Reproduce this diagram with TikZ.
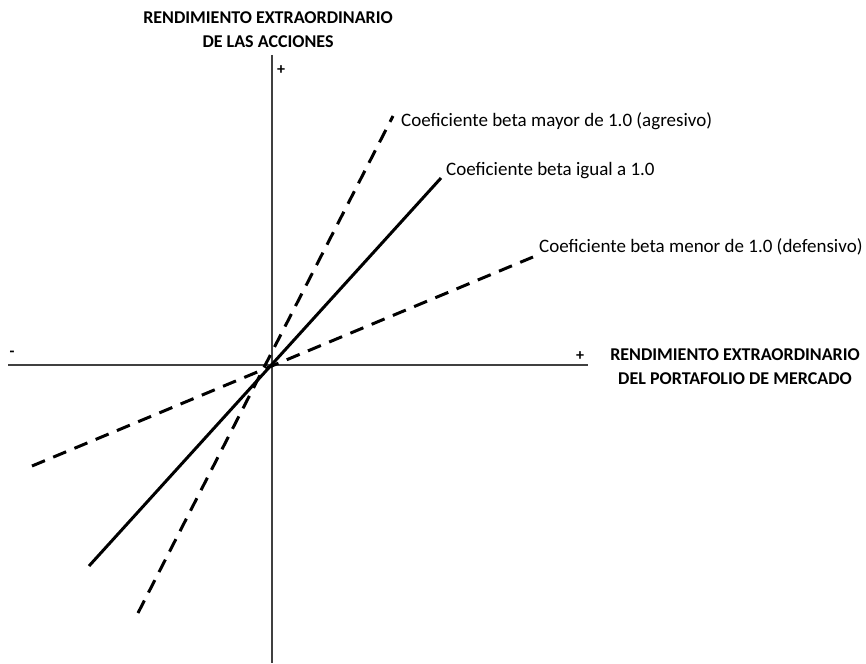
\documentclass[tikz,border=0pt]{standalone}
\usepackage{fontspec}
\setmainfont{Carlito}
\begin{document}
\begin{tikzpicture}[x=1pt,y=-1pt,
  axis/.style={draw=black!75,line width=1.1pt},
  beta/.style={line width=3pt,black},
  betadash/.style={beta,dash pattern=on 14pt off 9pt},
  lbl/.style={inner sep=0pt,font=\fontsize{19}{22}\selectfont},
  axlbl/.style={inner sep=0pt,align=center,font=\bfseries\fontsize{18}{24}\selectfont},
  sign/.style={inner sep=0pt,font=\bfseries\fontsize{16}{18}\selectfont}]
\useasboundingbox (0,0) rectangle (866,663);
% axes
\coordinate (ytop) at (272,55);
\coordinate (ybot) at (272,663);
\coordinate (xl) at (8,365);
\coordinate (xr) at (588,365);
\draw[axis] (ytop) -- (ybot);
\draw[axis] (xl) -- (xr);
% lines
\coordinate (s1) at (89,566);
\coordinate (s2) at (441,178);
\coordinate (a1) at (138,613);
\coordinate (a2) at (393,116);
\coordinate (d1) at (32,466);
\coordinate (d2) at (533,257);
\draw[betadash] (d1) -- (d2);
\draw[betadash] (a1) -- (a2);
\draw[beta] (s1) -- (s2);
% labels
\node[axlbl] (ylab) at (268,30) {RENDIMIENTO EXTRAORDINARIO\\DE LAS ACCIONES};
\node[sign] (yplus) at (281,70) {+};
\node[sign] (xplus) at (580,356) {+};
\node[sign] (xminus) at (12,354) {-};
\node[axlbl] (xlab) at (735,367) {RENDIMIENTO EXTRAORDINARIO\\DEL PORTAFOLIO DE MERCADO};
\node[lbl,anchor=west] (la) at (401,121) {Coeficiente beta mayor de 1.0 (agresivo)};
\node[lbl,anchor=west] (ls) at (446,171) {Coeficiente beta igual a 1.0};
\node[lbl,anchor=west] (ld) at (539,247) {Coeficiente beta menor de 1.0 (defensivo)};
\end{tikzpicture}
\end{document}
